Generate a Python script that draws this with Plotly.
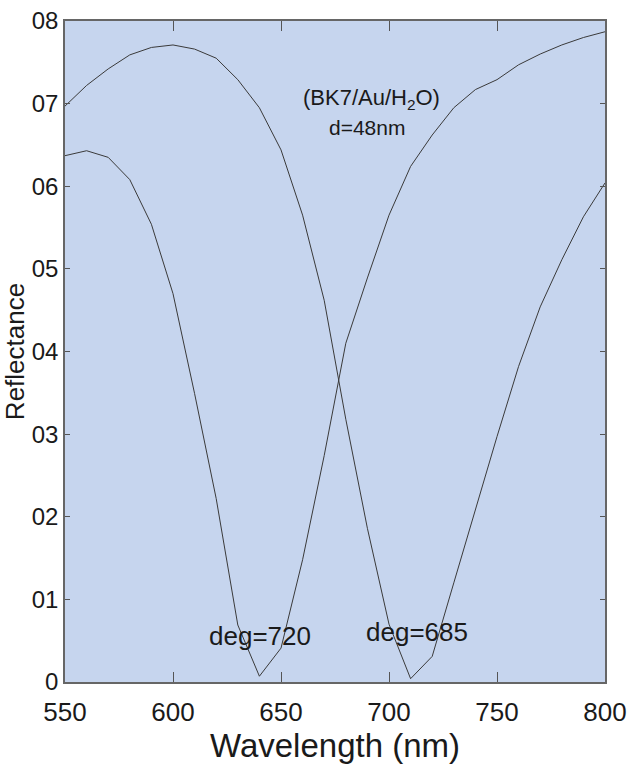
import plotly.graph_objects as go

wavelength = [550, 560, 570, 580, 590, 600, 610, 620, 630, 640, 650, 660, 670,
              680, 690, 700, 710, 720, 730, 740, 750, 760, 770, 780, 790, 800]

# deg = 720 (dip near 640 nm)
refl_720 = [0.637, 0.643, 0.635, 0.608, 0.554, 0.470, 0.349, 0.222, 0.069, 0.007,
            0.041, 0.148, 0.274, 0.410, 0.489, 0.565, 0.624, 0.662, 0.695, 0.717,
            0.729, 0.747, 0.760, 0.771, 0.780, 0.787]

# deg = 685 (dip near 710 nm)
refl_685 = [0.697, 0.722, 0.742, 0.759, 0.768, 0.771, 0.766, 0.755, 0.729, 0.695,
            0.644, 0.565, 0.462, 0.318, 0.186, 0.070, 0.004, 0.031, 0.120, 0.210,
            0.297, 0.382, 0.454, 0.511, 0.563, 0.604]

y_tickvals = [0, 0.1, 0.2, 0.3, 0.4, 0.5, 0.6, 0.7, 0.8]
y_ticktext = ["0", "01", "02", "03", "04", "05", "06", "07", "08"]
x_tickvals = [550, 600, 650, 700, 750, 800]

fig = go.Figure()
for ys in (refl_720, refl_685):
    fig.add_trace(go.Scatter(x=wavelength, y=ys, mode="lines",
                             line=dict(color="#3a3a3a", width=1),
                             showlegend=False, hoverinfo="skip"))

font_family = "Liberation Sans, Arial, sans-serif"

fig.update_layout(
    width=628, height=765,
    margin=dict(l=65, r=23, t=21, b=83, autoexpand=False),
    paper_bgcolor="white",
    plot_bgcolor="#c6d5ee",
    font=dict(family=font_family, color="#1a1a1a", size=22),
    xaxis=dict(range=[550, 800], tickvals=x_tickvals, ticks="inside", ticklen=10,
               tickcolor="#555", tickwidth=1, showgrid=False, zeroline=False,
               showline=True, linecolor="#666", linewidth=1.5, mirror="allticks",
               automargin=False, ticklabelstandoff=6,
               tickfont=dict(size=26, family=font_family, color="#1a1a1a"),
               title=dict(text="Wavelength (nm)", font=dict(size=33), standoff=2)),
    yaxis=dict(range=[0, 0.8], tickvals=y_tickvals, ticktext=y_ticktext,
               ticks="inside", ticklen=5, tickcolor="#555", tickwidth=1,
               showgrid=False, zeroline=False, showline=True, linecolor="#666",
               linewidth=1.5, mirror="allticks", automargin=False,
               tickfont=dict(size=24, family=font_family, color="#1a1a1a"),
               title=dict(text="Reflectance", font=dict(size=26), standoff=4)),
)

annotations = [
    dict(x=692, y=0.705, text="(BK7/Au/H<sub>2</sub>O)", size=22),
    dict(x=690, y=0.671, text="d=48nm", size=21),
    dict(x=640.4, y=0.056, text="deg=720", size=26),
    dict(x=712.8, y=0.061, text="deg=685", size=26),
]
for a in annotations:
    fig.add_annotation(x=a["x"], y=a["y"], text=a["text"], showarrow=False,
                       xref="x", yref="y",
                       font=dict(size=a["size"], family=font_family, color="#1a1a1a"))

fig.write_html("out.html")
